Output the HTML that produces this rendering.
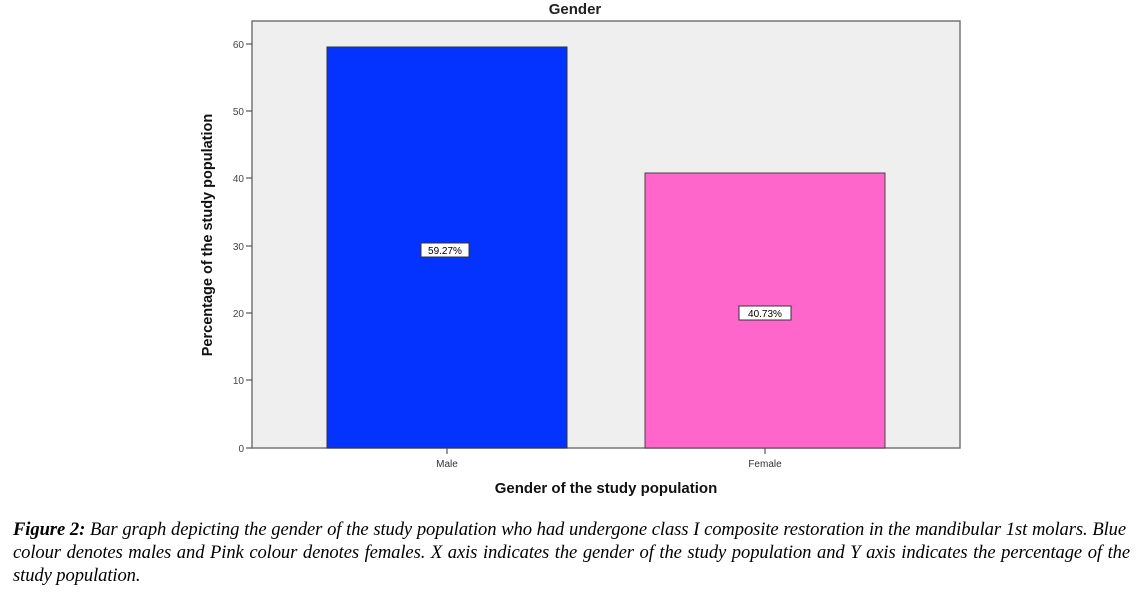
<!DOCTYPE html>
<html><head><style>
body{margin:0;background:#fff;width:1145px;height:593px;overflow:hidden;position:relative;font-family:"Liberation Sans",sans-serif}
.cap{position:absolute;left:13px;top:518px;font-family:"Liberation Serif",serif;font-style:italic;font-size:18.6px;line-height:23px;color:#000;letter-spacing:-0.1px}
.cap div{white-space:nowrap}
.j{text-align:justify;text-align-last:justify}
</style></head><body>
<svg width="1145" height="510" style="position:absolute;left:0;top:0" font-family="Liberation Sans, sans-serif">
<text x="575" y="14" font-size="15" font-weight="bold" text-anchor="middle" fill="#222">Gender</text>
<rect x="252" y="21" width="708" height="427" fill="#efefef" stroke="#777" stroke-width="1.5"/>
<rect x="327" y="47" width="240" height="401" fill="#0433ff" stroke="#333" stroke-width="1"/>
<rect x="645" y="173" width="240" height="275" fill="#ff66cc" stroke="#444" stroke-width="1"/>
<g stroke="#555" stroke-width="1.2">
<line x1="246" y1="44" x2="252" y2="44"/><line x1="246" y1="111" x2="252" y2="111"/>
<line x1="246" y1="178" x2="252" y2="178"/><line x1="246" y1="246" x2="252" y2="246"/>
<line x1="246" y1="313" x2="252" y2="313"/><line x1="246" y1="380" x2="252" y2="380"/>
<line x1="246" y1="448" x2="252" y2="448"/>
<line x1="447" y1="448" x2="447" y2="454"/><line x1="765" y1="448" x2="765" y2="454"/>
</g>
<g font-size="10" fill="#444" text-anchor="end">
<text x="244" y="48">60</text><text x="244" y="115">50</text><text x="244" y="182">40</text>
<text x="244" y="250">30</text><text x="244" y="317">20</text><text x="244" y="384">10</text><text x="244" y="452">0</text>
</g>
<g font-size="10" fill="#333" text-anchor="middle">
<text x="447" y="467">Male</text><text x="765" y="467">Female</text>
</g>
<rect x="421" y="243" width="48" height="14" fill="#fff" stroke="#333"/>
<text x="445" y="254" font-size="10" text-anchor="middle" fill="#000">59.27%</text>
<rect x="739" y="306" width="52" height="14" fill="#fff" stroke="#333"/>
<text x="765" y="317" font-size="10" text-anchor="middle" fill="#000">40.73%</text>
<text x="606" y="493" font-size="15" font-weight="bold" text-anchor="middle" fill="#111">Gender of the study population</text>
<text transform="translate(212,235) rotate(-90)" font-size="14.5" font-weight="bold" text-anchor="middle" fill="#111">Percentage of the study population</text>
</svg>
<div class="cap">
<div class="j" style="width:1113px;white-space:normal"><b>Figure 2:</b> Bar graph depicting the gender of the study population who had undergone class I composite restoration in the mandibular 1st molars. Blue</div>
<div class="j" style="width:1117px;white-space:normal">colour denotes males and Pink colour denotes females. X axis indicates the gender of the study population and Y axis indicates the percentage of the</div>
<div>study population.</div>
</div>
</body></html>
